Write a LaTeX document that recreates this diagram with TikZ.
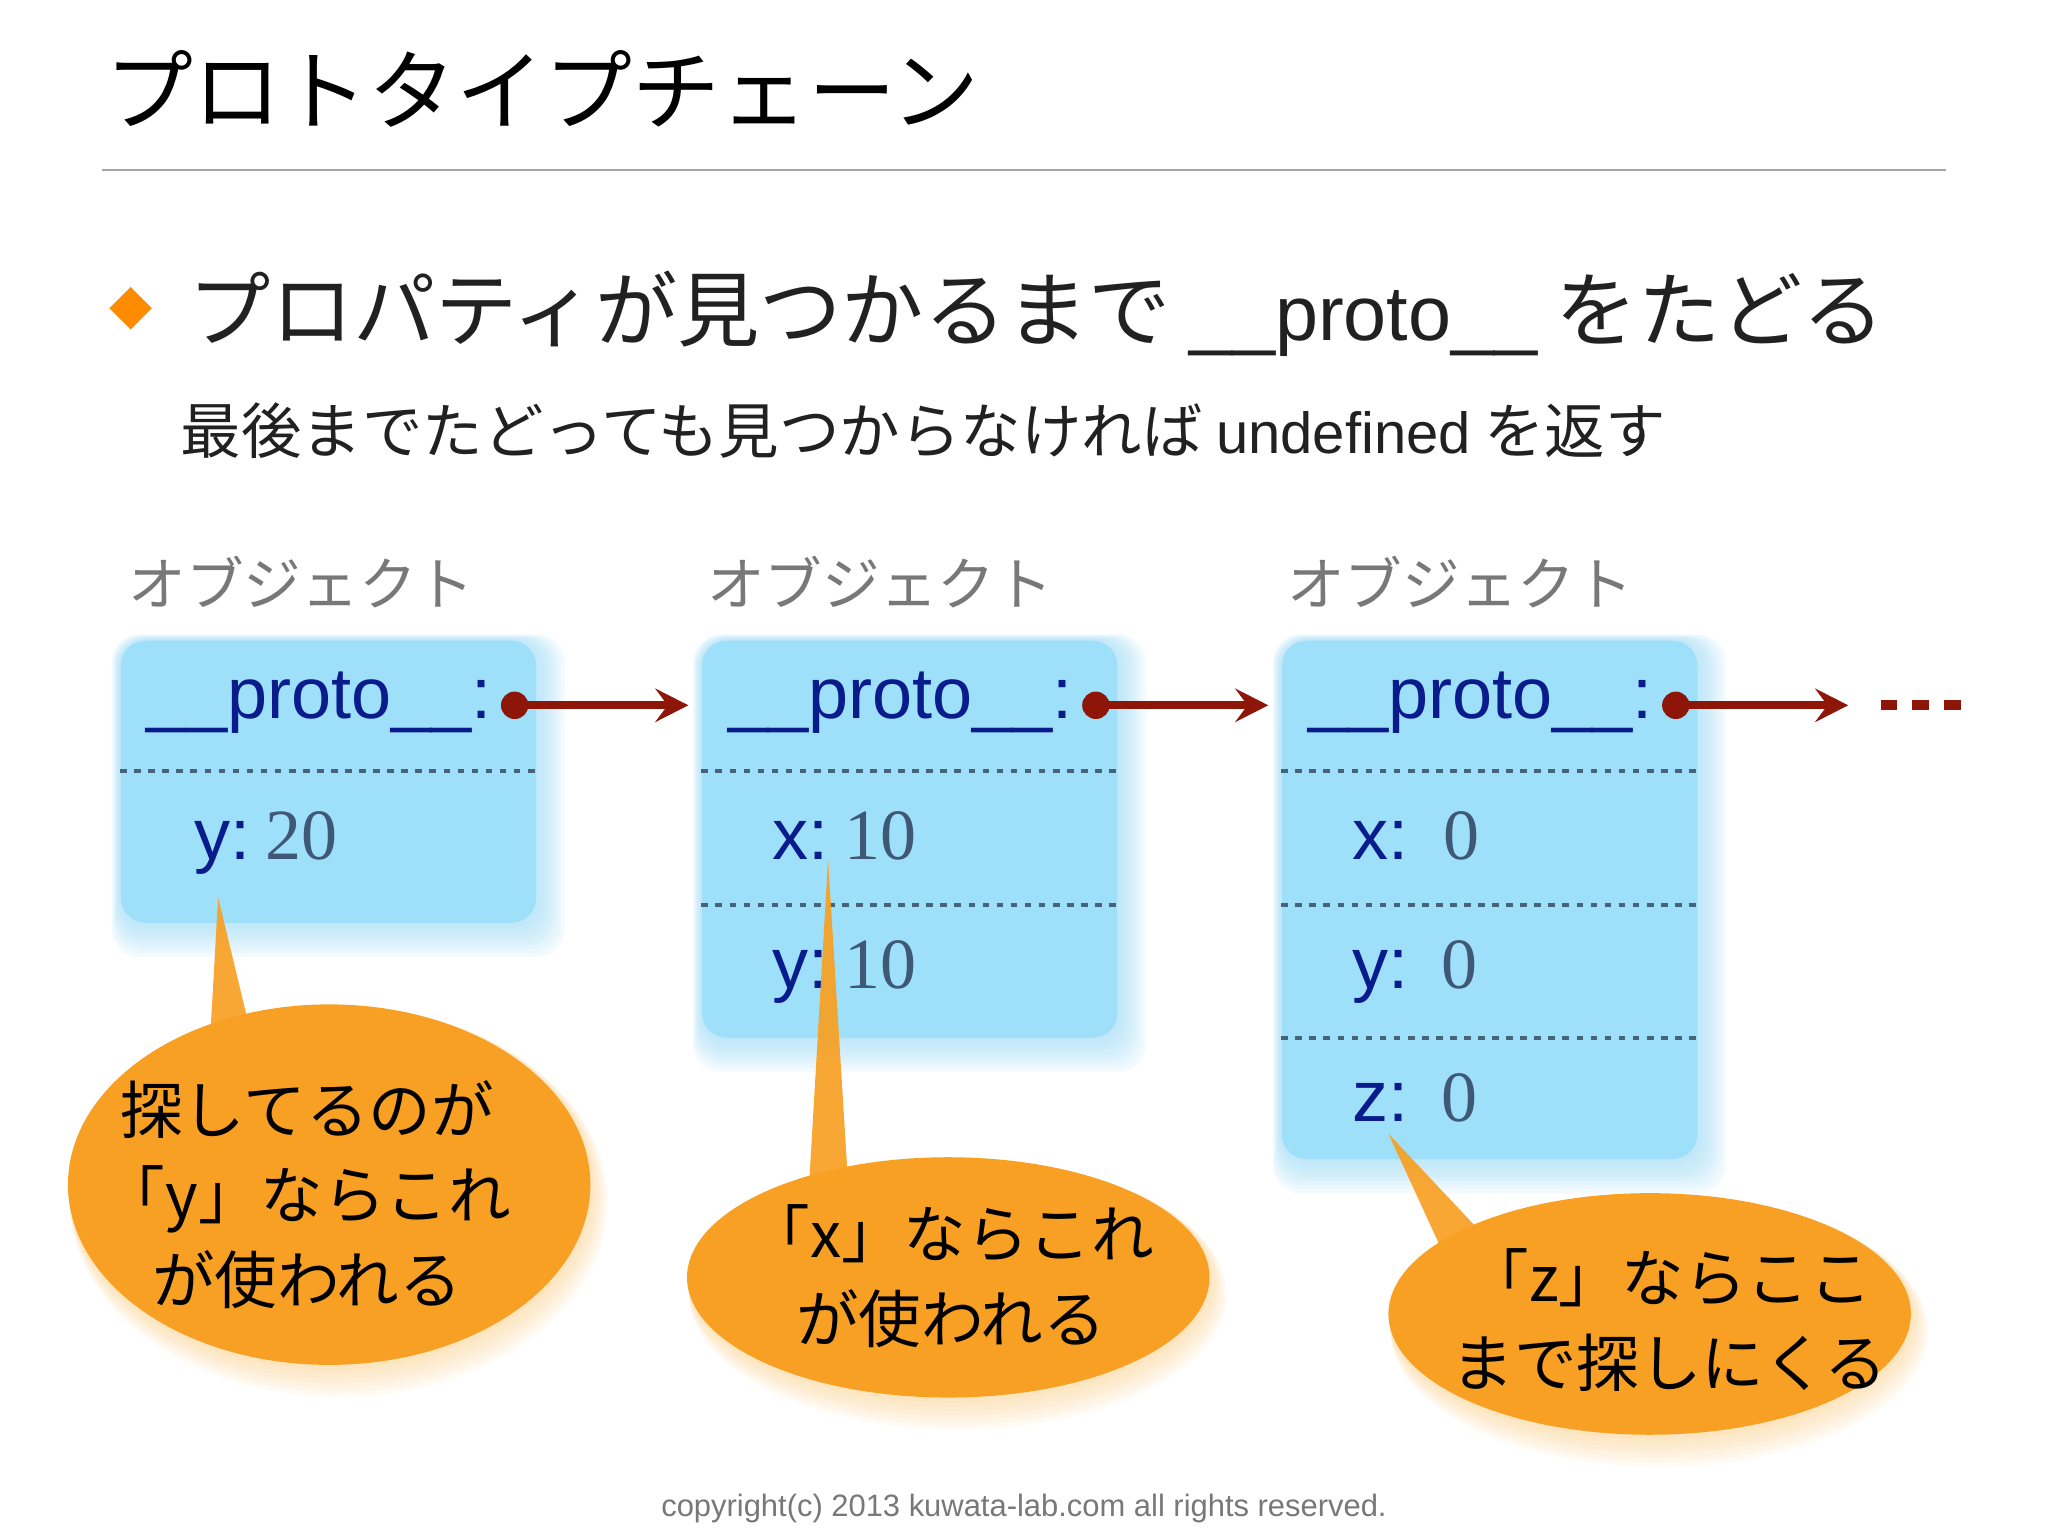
\documentclass[tikz,border=0pt]{standalone}
\usepackage{fontspec}
\setmainfont{Liberation Sans}
\newfontfamily\jpfont{Noto Sans CJK JP}
\newfontfamily\latinfont{Liberation Sans}
\newfontfamily\serifnum{Liberation Serif}
\usetikzlibrary{arrows.meta, shapes.geometric, backgrounds, calc}

\definecolor{boxblue}{RGB}{158,224,250}
\definecolor{glowblue}{RGB}{150,215,245}
\definecolor{keyblue}{RGB}{10,28,140}
\definecolor{valslate}{RGB}{62,88,118}
\definecolor{sepgray}{RGB}{70,100,120}
\definecolor{ptrred}{RGB}{142,22,8}
\definecolor{callorange}{RGB}{248,160,35}
\definecolor{glowor}{RGB}{250,195,110}
\definecolor{labelgray}{RGB}{120,120,120}
\definecolor{rulegray}{RGB}{165,165,165}
\definecolor{bulletorange}{RGB}{255,140,0}

\tikzset{
    objbox/.style={rectangle, rounded corners=7pt, fill=boxblue, anchor=north west, inner sep=0pt, minimum width=4.153cm},
    objlabel/.style={anchor=west, inner sep=0pt, text=labelgray, font=\jpfont\fontsize{16.4}{19}\selectfont},
    protokey/.style={anchor=base west, inner sep=0pt, text=keyblue, font=\latinfont\fontsize{20.5}{24}\selectfont},
    slot/.style={anchor=base west, inner sep=0pt, text=keyblue, font=\latinfont\fontsize{20.5}{24}\selectfont},
    sepline/.style={sepgray, line width=1.1pt, dash pattern=on 1.9pt off 2.1pt},
    ptrdot/.style={circle, fill=ptrred, inner sep=0pt, minimum size=7.8pt},
    ptr/.style={ptrred, line width=2.2pt, -{Stealth[length=9.4pt, width=9.5pt, inset=3.5pt]}, shorten >=3.7pt},
    etcdash/.style={ptrred, line width=2.8pt, dash pattern=on 4.75pt off 4.3pt},
    callout/.style={ellipse, fill=callorange, inner sep=0pt, minimum width=5.224cm},
    calltext/.style={align=center, inner sep=0pt, font=\jpfont\fontsize{17.8}{24.2}\selectfont},
    tail/.style={fill=callorange, fill opacity=0.92}
}

\newcommand{\val}[1]{{\serifnum\fontsize{20.5}{24}\selectfont\color{valslate}#1}}

\begin{document}
\begin{tikzpicture}[x=0.0130612cm, y=-0.0130612cm]

    \useasboundingbox (0,0) rectangle (1568,1176);

    \node[anchor=west, inner sep=0pt, font=\jpfont\fontsize{25}{30}\selectfont] (title) at (80,68) {プロトタイプチェーン};
    \draw[rulegray, line width=0.6pt] (78,130) -- (1490,130);

    \node[diamond, fill=bulletorange, inner sep=0pt, minimum size=0.431cm] (bullet) at (100,236) {};
    \node[anchor=west, inner sep=0pt, text=black!87, font=\jpfont\fontsize{23.4}{28}\selectfont] (point) at (144,240)
        {プロパティが見つかるまで {\latinfont\fontsize{22}{26}\selectfont \_\_proto\_\_} をたどる};
    \node[anchor=west, inner sep=0pt, text=black!87, font=\jpfont\fontsize{17.2}{21}\selectfont] (subpoint) at (138,330)
        {最後までたどっても見つからなければ {\latinfont\fontsize{16.5}{20}\selectfont undefined} を返す};

    \node[objlabel] (lab1) at (98,446) {オブジェクト};
    \node[objlabel] (lab2) at (541,446) {オブジェクト};
    \node[objlabel] (lab3) at (985,446) {オブジェクト};

    \node[objbox, minimum height=2.821cm] (box1) at (92,490) {};
    \node[objbox, minimum height=3.971cm] (box2) at (537,490) {};
    \node[objbox, minimum height=5.185cm] (box3) at (981,490) {};

    \draw[sepline] ($(box1.north west)+(0,100)$) -- ($(box1.north east)+(0,100)$);
    \draw[sepline] ($(box2.north west)+(0,100)$) -- ($(box2.north east)+(0,100)$);
    \draw[sepline] ($(box2.north west)+(0,203)$) -- ($(box2.north east)+(0,203)$);
    \draw[sepline] ($(box3.north west)+(0,100)$) -- ($(box3.north east)+(0,100)$);
    \draw[sepline] ($(box3.north west)+(0,203)$) -- ($(box3.north east)+(0,203)$);
    \draw[sepline] ($(box3.north west)+(0,305)$) -- ($(box3.north east)+(0,305)$);

    \node[protokey] (proto1) at ($(box1.north west)+(20,60)$) {\_\_proto\_\_:};
    \node[protokey] (proto2) at ($(box2.north west)+(20,60)$) {\_\_proto\_\_:};
    \node[protokey] (proto3) at ($(box3.north west)+(20,60)$) {\_\_proto\_\_:};

    \node[slot] (y1) at ($(box1.north west)+(56,168)$) {y:\hspace{4.5pt}\val{20}};
    \node[slot] (x2) at ($(box2.north west)+(54,168)$) {x:\hspace{4.5pt}\val{10}};
    \node[slot] (y2) at ($(box2.north west)+(54,267)$) {y:\hspace{4.5pt}\val{10}};
    \node[slot] (x3) at ($(box3.north west)+(54,168)$) {x:\hspace{10pt}\val{0}};
    \node[slot] (y3) at ($(box3.north west)+(54,267)$) {y:\hspace{9.5pt}\val{0}};
    \node[slot] (z3) at ($(box3.north west)+(54,369)$) {z:\hspace{9.5pt}\val{0}};

    \node[ptrdot] (d1) at ($(box1.north east)+(-17,50)$) {};
    \node[ptrdot] (d2) at ($(box2.north east)+(-17,50)$) {};
    \node[ptrdot] (d3) at ($(box3.north east)+(-17,50)$) {};
    \coordinate (next) at (1425,540);
    \node[inner sep=0pt, minimum width=0.8cm] (etc) at (1471,540) {};

    \draw[ptr] (d1.center) -- (box2.west |- d1);
    \draw[ptr] (d2.center) -- (box3.west |- d2);
    \draw[ptr] (d3.center) -- (next);
    \draw[etcdash] (etc.west) -- (etc.east);

    % speech bubbles
    \coordinate (tip1) at (167,687);
    \coordinate (tip2) at (634,658);
    \coordinate (tip3) at (1063,868);
    \fill[tail] (160.6,800) -- (tip1) -- (193,795) -- cycle;
    \fill[tail] (619,915) -- (tip2) -- (649.6,910) -- cycle;
    \fill[tail] (1108,966) -- (tip3) -- (1141,951) -- cycle;

    \node[callout, minimum height=3.605cm] (c1) at (252,907) {};
    \node[callout, minimum height=2.403cm] (c2) at (726,978) {};
    \node[callout, minimum height=2.416cm] (c3) at (1263,1006) {};

    \node[calltext] (t1) at ($(c1)+(-17,8)$) {探してるのが\\「y」ならこれ\\が使われる};
    \node[calltext] (t2) at ($(c2)+(2,-1)$) {「x」ならこれ\\が使われる};
    \node[calltext] (t3) at ($(c3)+(15,5)$) {「z」ならここ\\まで探しにくる};

    \node[text=labelgray, inner sep=0pt, font=\latinfont\fontsize{8.8}{10}\selectfont] (copy) at (784,1155)
        {copyright(c) 2013 kuwata-lab.com all rights reserved.};

    \begin{scope}[on background layer]
        \foreach \b in {box1,box2,box3}
            \foreach \s in {1,...,8}
                \fill[glowblue, fill opacity=0.1, rounded corners=8pt]
                    ([xshift=-0.3*\s pt, yshift=0.2*\s pt]\b.north west) rectangle ([xshift=\s pt, yshift=-1.2*\s pt]\b.south east);
        \foreach \c/\h in {c1/1.8025, c2/1.2015, c3/1.208}
            \foreach \s in {1,...,7}
                \fill[glowor, fill opacity=0.08]
                    ([xshift=0.4*\s pt, yshift=-0.7*\s pt]\c) ellipse [x radius=2.612cm+0.3*\s pt, y radius=\h cm+0.6*\s pt];
    \end{scope}

\end{tikzpicture}
\end{document}
